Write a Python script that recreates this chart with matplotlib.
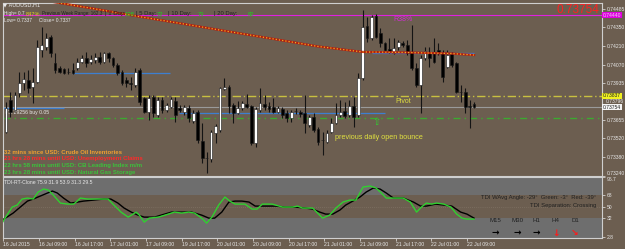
import numpy as np
import matplotlib.pyplot as plt

# ---- data ----
candle_open = [0.73569, 0.73807, 0.73733, 0.73859, 0.73934, 0.73956, 0.73904, 0.73941, 0.74180, 0.74202,
               0.74276, 0.74083, 0.74045, 0.74038, 0.74016, 0.74031, 0.74045, 0.74090, 0.74120, 0.74090,
               0.74105, 0.74127, 0.74090, 0.74157, 0.74120, 0.74068, 0.74016, 0.73956, 0.73934, 0.73919,
               0.74031, 0.73822, 0.73718, 0.73829, 0.73695, 0.73807, 0.73733, 0.73755, 0.73800, 0.73747,
               0.73718, 0.73747, 0.73651, 0.73718, 0.73502, 0.73375, 0.73367, 0.73561, 0.73584, 0.73889,
               0.73904, 0.73770, 0.73710, 0.73747, 0.73777, 0.73762, 0.73487, 0.73733, 0.73777, 0.73762,
               0.73755, 0.73718, 0.73740, 0.73710, 0.73673, 0.73725, 0.73718, 0.73710, 0.73621, 0.73680,
               0.73591, 0.73509, 0.73494, 0.73569, 0.73636, 0.73695, 0.73725, 0.73695, 0.73762, 0.73695,
               0.73971, 0.74358, 0.74269, 0.74433, 0.74306, 0.74232, 0.74187, 0.74157, 0.74202, 0.74232,
               0.74217, 0.74165, 0.74045, 0.73919, 0.74120, 0.74165, 0.74157, 0.74180, 0.74157, 0.74053,
               0.74150, 0.74083, 0.73867, 0.73867, 0.73762, 0.73777]
candle_high = [0.73792, 0.73867, 0.73867, 0.74016, 0.74016, 0.74031, 0.74045, 0.74254, 0.74351, 0.74306,
               0.74291, 0.74157, 0.74060, 0.74045, 0.74045, 0.74083, 0.74120, 0.74142, 0.74165, 0.74142,
               0.74157, 0.74165, 0.74165, 0.74165, 0.74127, 0.74083, 0.74031, 0.73978, 0.73978, 0.74045,
               0.74045, 0.73829, 0.73844, 0.73844, 0.73829, 0.73829, 0.73785, 0.73829, 0.73829, 0.73770,
               0.73770, 0.73770, 0.73733, 0.73733, 0.73636, 0.73420, 0.73584, 0.73628, 0.73904, 0.73971,
               0.73919, 0.73785, 0.73800, 0.73800, 0.73852, 0.73770, 0.73755, 0.73896, 0.73844, 0.73792,
               0.73822, 0.73762, 0.73755, 0.73733, 0.73733, 0.73747, 0.73733, 0.73844, 0.73695, 0.73710,
               0.73606, 0.73569, 0.73584, 0.73673, 0.73785, 0.73807, 0.73792, 0.73807, 0.73829, 0.74008,
               0.74478, 0.74425, 0.74440, 0.74448, 0.74343, 0.74239, 0.74269, 0.74269, 0.74254, 0.74247,
               0.74254, 0.74366, 0.74083, 0.74142, 0.74202, 0.74202, 0.74269, 0.74232, 0.74180, 0.74180,
               0.74165, 0.74090, 0.73919, 0.73896, 0.73807, 0.73792]
candle_low = [0.73561, 0.73680, 0.73718, 0.73829, 0.73882, 0.73859, 0.73785, 0.73934, 0.74127, 0.74180,
              0.74127, 0.74008, 0.74008, 0.74001, 0.74001, 0.74004, 0.74031, 0.74083, 0.74053, 0.74075,
              0.74083, 0.74075, 0.74083, 0.74090, 0.74053, 0.73993, 0.73919, 0.73904, 0.73882, 0.73904,
              0.73770, 0.73710, 0.73658, 0.73680, 0.73680, 0.73710, 0.73718, 0.73747, 0.73643, 0.73718,
              0.73695, 0.73643, 0.73636, 0.73487, 0.73338, 0.73263, 0.73345, 0.73487, 0.73569, 0.73882,
              0.73710, 0.73636, 0.73703, 0.73733, 0.73750, 0.73472, 0.73457, 0.73718, 0.73733, 0.73718,
              0.73710, 0.73710, 0.73673, 0.73643, 0.73643, 0.73703, 0.73680, 0.73561, 0.73606, 0.73569,
              0.73472, 0.73397, 0.73487, 0.73561, 0.73630, 0.73680, 0.73673, 0.73680, 0.73606, 0.73680,
              0.73956, 0.74239, 0.74254, 0.74269, 0.74202, 0.74165, 0.74157, 0.74150, 0.74180, 0.74202,
              0.74142, 0.74031, 0.73904, 0.73710, 0.74105, 0.74053, 0.74083, 0.74142, 0.73941, 0.74045,
              0.74053, 0.73859, 0.73792, 0.73710, 0.73598, 0.73747]
candle_close = [0.73747, 0.73718, 0.73844, 0.73934, 0.73963, 0.73896, 0.73941, 0.74202, 0.74217, 0.74269,
                0.74157, 0.74031, 0.74016, 0.74008, 0.74012, 0.74008, 0.74090, 0.74120, 0.74083, 0.74112,
                0.74127, 0.74090, 0.74157, 0.74120, 0.74068, 0.74008, 0.73934, 0.73934, 0.73926, 0.74016,
                0.73792, 0.73718, 0.73822, 0.73710, 0.73807, 0.73733, 0.73770, 0.73814, 0.73695, 0.73733,
                0.73755, 0.73673, 0.73710, 0.73509, 0.73375, 0.73371, 0.73569, 0.73613, 0.73896, 0.73904,
                0.73762, 0.73710, 0.73747, 0.73785, 0.73755, 0.73487, 0.73740, 0.73785, 0.73755, 0.73740,
                0.73718, 0.73747, 0.73695, 0.73673, 0.73718, 0.73722, 0.73703, 0.73636, 0.73680, 0.73584,
                0.73494, 0.73505, 0.73561, 0.73636, 0.73695, 0.73718, 0.73688, 0.73762, 0.73680, 0.73971,
                0.74351, 0.74269, 0.74425, 0.74276, 0.74232, 0.74180, 0.74165, 0.74194, 0.74239, 0.74217,
                0.74157, 0.74045, 0.73919, 0.74120, 0.74172, 0.74120, 0.74090, 0.74157, 0.73978, 0.74142,
                0.74068, 0.73867, 0.73863, 0.73755, 0.73758, 0.73754]

# moving average (red/yellow dotted)
ma_bar = [8, 20, 30, 40, 50, 60, 70, 80, 90, 100, 105]
ma_val = [0.74552, 0.74486, 0.74428, 0.74373, 0.74317, 0.74262, 0.74206, 0.74165, 0.74161, 0.74153, 0.74142]

# horizontal levels
level_r38 = 0.74440
level_pivot = 0.73837
level_ask = 0.73796
level_bid = 0.73754
level_prev_open = 0.73672
blue_segments = [(-1.4, 12.9, 0.73750), (14.9, 36.7, 0.74008), (38.9, 85.1, 0.73710), (82.0, 105.0, 0.74157)]

price_ticks = [0.74485, 0.74350, 0.74210, 0.74070, 0.73935, 0.73655, 0.73520, 0.73380, 0.73240]

# TDI indicator
green_bar = [-0.9, 0.2, 1.4, 2.5, 3.6, 4.8, 6.1, 7.2, 8.4, 9.5, 10.6, 12.2, 13.8, 15.2, 16.7, 18.3, 19.7,
             21.3, 22.9, 24.2, 25.8, 27.4, 28.5, 29.2, 29.9, 31.0, 32.1, 34.2, 36.4, 37.8, 39.4, 41.0,
             42.3, 43.9, 45.0, 46.2, 47.7, 49.1, 50.2, 51.4, 53.6, 55.2, 56.3, 57.5, 59.7, 62.0, 64.3,
             65.4, 66.5, 68.8, 69.9, 71.0, 72.6, 74.0, 75.6, 77.1, 78.5, 80.1, 81.7, 83.0, 84.2, 85.3,
             86.9, 89.1, 90.7, 92.1, 93.2, 94.3, 95.5, 96.6, 98.2, 99.8, 101.1, 102.3, 103.4, 105.0]
green_val = [24.7, 37.2, 49.8, 52.9, 62.3, 63.8, 62.3, 73.2, 77.9, 76.4, 68.5, 56.0, 54.4, 54.4, 63.8, 62.3, 62.3,
             62.3, 62.3, 52.9, 41.9, 34.1, 38.8, 41.9, 37.2, 26.3, 32.5, 34.1, 38.8, 41.9, 40.4, 41.9,
             40.4, 32.5, 24.7, 34.1, 52.9, 65.4, 59.1, 54.4, 54.4, 46.6, 46.6, 54.4, 54.4, 49.8, 49.8,
             51.3, 48.2, 48.2, 40.4, 32.5, 37.2, 48.2, 57.6, 60.7, 60.7, 81.1, 82.6, 79.5, 71.7, 63.8,
             63.8, 63.8, 57.6, 41.9, 49.8, 56.0, 54.4, 56.0, 54.4, 49.8, 38.8, 32.5, 31.0, 31.0]
signal_bar = [-0.9, 0.2, 1.6, 3.2, 4.8, 6.1, 7.7, 9.3, 10.4, 11.5, 12.9, 14.5, 16.1, 17.4, 19.7, 21.9, 23.5,
              25.1, 26.5, 28.1, 29.6, 31.0, 33.3, 34.8, 37.1, 39.4, 41.6, 43.9, 45.5, 46.8, 48.4, 50.0,
              51.4, 52.9, 54.5, 55.9, 58.1, 60.4, 62.7, 64.9, 67.2, 68.8, 70.4, 71.7, 73.3, 74.9, 76.2,
              77.8, 79.4, 80.8, 82.4, 83.9, 85.3, 86.9, 89.1, 91.4, 93.0, 94.3, 96.4, 98.2, 100.0, 102.0,
              103.4, 105.0]
signal_val = [29.4, 34.1, 40.4, 49.8, 59.1, 62.3, 67.0, 71.7, 74.8, 71.7, 63.8, 56.0, 57.6, 59.1, 60.7, 62.3, 62.3,
              56.0, 48.2, 41.9, 37.2, 34.1, 34.1, 37.2, 41.9, 41.9, 41.9, 37.2, 32.5, 32.5, 41.9, 57.6,
              59.1, 59.1, 57.6, 51.3, 51.3, 51.3, 49.8, 49.8, 48.2, 46.6, 41.9, 38.8, 38.8, 45.1, 52.9,
              59.1, 65.4, 73.2, 79.5, 77.9, 71.7, 63.8, 63.8, 57.6, 51.3, 51.3, 54.4, 52.9, 51.3, 41.9,
              38.8, 32.5]
tdi_ticks = [96.7, 68, 50, 32, 2.8]

time_labels = ["16 Jul 2015", "16 Jul 09:00", "16 Jul 17:00", "17 Jul 01:00", "17 Jul 09:00",
               "19 Jul 17:00", "20 Jul 01:00", "20 Jul 09:00", "20 Jul 17:00", "21 Jul 01:00",
               "21 Jul 09:00", "21 Jul 17:00", "22 Jul 01:00", "22 Jul 09:00"]

news_lines = ["32 mins since USD: Crude Oil Inventories",
              "21 hrs 28 mins until USD: Unemployment Claims",
              "22 hrs 58 mins until USD: CB Leading Index m/m",
              "23 hrs 28 mins until USD: Natural Gas Storage"]
news_colors = ["#f0a030", "#ff2a2a", "#3cc03c", "#3cc03c"]

tf_names = ["M15", "M30", "H1", "H4", "D1"]
tf_arrows = ["\u2192", "\u2192", "\u2192", "\u2193", "\u2198"]
tf_colors = ["#000000", "#000000", "#000000", "#ff1a1a", "#ff1a1a"]

# ---- styling ----
BG = "#6c5e50"
GRAY = "#6e6e6e"
FG = "#e8e8e8"
DARK = "#202020"
W, H = 625, 249
plt.rcParams["font.family"] = ["Liberation Sans", "DejaVu Sans"]


def fx(x):
    return x / W


def fy(y):
    return 1 - y / H


fig = plt.figure(figsize=(W / 100, H / 100), dpi=100, facecolor=BG)
ax = fig.add_axes([fx(3), fy(176), fx(599), 173 / H], facecolor=BG)
ax2 = fig.add_axes([fx(3), fy(238), fx(599), 61 / H], facecolor=BG)

xlim = (-0.68, 133.7)

# ---- main price panel ----
bars = np.arange(len(candle_open))
o = np.array(candle_open)
c = np.array(candle_close)
bull = c >= o
ax.vlines(bars, candle_low, candle_high, color="#141414", lw=0.8, zorder=3)
body = np.maximum(np.abs(c - o), 0.00003)
ax.bar(bars, body, bottom=np.minimum(o, c), width=0.62,
       color=np.where(bull, "#ffffff", "#000000"), edgecolor="#1a1a1a", linewidth=0.4, zorder=4)

ax.axhline(level_r38, color="#e020e0", lw=0.8, zorder=2)
ax.axhline(level_pivot, color="#c8c040", lw=1.0, ls=(0, (6, 2, 1, 2)), zorder=2)
ax.axhline(level_bid, color="#9a9a9a", lw=0.8, zorder=2)
ax.axhline(level_prev_open, color="#3caa30", lw=1.0, ls=(0, (5, 3, 1, 3)), zorder=2)
for x0, x1, lv in blue_segments:
    ax.hlines(lv, x0, x1, color="#3d7fd0", lw=0.9, zorder=2)

ax.plot(ma_bar, ma_val, color="#b01e10", lw=1.6, zorder=5)
ax.plot(ma_bar, ma_val, color="#f0b020", lw=0.9, dashes=(1, 1.6), zorder=6)

ax.text(86.9, 0.74410, "R38%", color="#d030d0", fontsize=5, ha="left", va="center")
ax.text(87.3, 0.73798, "Pivot", color="#e0e040", fontsize=5, ha="left", va="center")
ax.text(83.0, 0.73643, "\u21e7", color="#30d030", fontsize=7, ha="center", va="center",
        family="DejaVu Sans")
ax.text(73.8, 0.73524, "previous daily open bounce", color="#e0e040", fontsize=5.2,
        ha="left", va="center")
ax.text(-0.3, 0.73710, "#7729256 buy 0.05", color=FG, fontsize=3.7, ha="left", va="center")

ax.set_xlim(xlim)
ax.set_ylim(0.73241, 0.74530)
ax.yaxis.tick_right()
ax.set_yticks(price_ticks, [f"{v:.5f}" for v in price_ticks])
ax.tick_params(axis="y", colors=FG, labelsize=3.6, length=2, width=0.5, pad=1.5)
ax.get_yticklabels()[-1].set_verticalalignment("bottom")
ax.set_xticks([])
for s in ax.spines.values():
    s.set_color("#cfcfcf")
    s.set_linewidth(0.8)

# price boxes on the right scale
tr = ax.get_yaxis_transform()
ax.text(1.002, level_r38, "0.74440", transform=tr, fontsize=3.6, color="#f0d0f0", va="center",
        ha="left", bbox=dict(boxstyle="square,pad=0.15", fc="#e000e0", ec="none"), clip_on=False)
ax.text(1.002, level_pivot, "0.73837", transform=tr, fontsize=3.6, color="#202020", va="center",
        ha="left", bbox=dict(boxstyle="square,pad=0.15", fc="#f0f020", ec="none"), clip_on=False)
ax.text(1.006, level_ask, "0.73796", transform=tr, fontsize=3.6, color=FG, va="center",
        ha="left", clip_on=False)
ax.text(1.002, level_bid, "0.73754", transform=tr, fontsize=3.6, color="#202020", va="center",
        ha="left", bbox=dict(boxstyle="square,pad=0.15", fc="#f4f4f4", ec="none"), clip_on=False)

# ---- TDI panel ----
ax2.axhspan(68, 120, color=GRAY, lw=0, zorder=0)
ax2.axhspan(-20, 32, color=GRAY, lw=0, zorder=0)
ax2.axhline(50, color="#877a6c", lw=0.5, ls=(0, (1, 2)), zorder=1)
ax2.plot(signal_bar, signal_val, color="#000000", lw=1.0, zorder=3)
ax2.plot(green_bar, green_val, color="#30d030", lw=1.0, zorder=4)
ax2.set_xlim(xlim)
ax2.set_ylim(1.5, 96.7)
ax2.yaxis.tick_right()
ax2.set_yticks(tdi_ticks, ["96.7", "68", "50", "32", "2.8"])
ax2.tick_params(axis="y", colors=FG, labelsize=3.6, length=2, width=0.5, pad=1.5)
ax2.get_yticklabels()[0].set_verticalalignment("top")
tick_pos = np.arange(len(time_labels)) * 8 - 0.6
ax2.set_xticks(tick_pos, time_labels, ha="left")
ax2.tick_params(axis="x", colors=FG, labelsize=3.7, length=2, width=0.5, pad=1)
for s in ax2.spines.values():
    s.set_color("#cfcfcf")
    s.set_linewidth(0.8)

# ---- overlay texts ----
fig.text(fx(3), fy(5), "\u25bc AUDUSD,H1", color=FG, fontsize=3.8, va="center", family="DejaVu Sans")
fig.text(fx(4), fy(14), "High= 0.7", color=FG, fontsize=3.4, va="center")
fig.text(fx(26), fy(14), "847%", color="#e0d020", fontsize=4.0, va="center")
fig.text(fx(42), fy(14), "Previous Week Range: 162.3", color=DARK, fontsize=3.3, va="center")
header = [(105, "| 1 Day:", DARK), (125, "108", "#20d020"), (136, "| 5 Day:", DARK), (157, "72", "#20d020"),
          (168, "| 10 Day:", DARK), (198, "79", "#20d020"), (214, "| 20 Day:", DARK), (248, "82", "#20d020")]
for x, t, col in header:
    fig.text(fx(x), fy(14), t, color=col, fontsize=4.2, va="center")
fig.text(fx(4), fy(20), "Low= 0.7337     Close= 0.7337", color=FG, fontsize=3.5, va="center")
fig.text(fx(599), fy(10), "0.73754", color="#ff2020", fontsize=8.5, ha="right", va="center")

for k, (t, col) in enumerate(zip(news_lines, news_colors)):
    fig.text(fx(4), fy(152 + 6.7 * k), t, color=col, fontsize=4.3, fontweight="bold", va="center")

fig.text(fx(4), fy(182), "TDI-RT-Clone 75.9 31.9 53.9 31.3 29.5", color=FG, fontsize=3.7, va="center")
fig.text(fx(596), fy(197), "TDI WAvg Angle: -29\u00b0  Green: -3\u00b0  Red: -39\u00b0", color=DARK,
         fontsize=4.2, ha="right", va="center")
fig.text(fx(596), fy(206), "TDI Separation: Crossing", color=DARK, fontsize=4.2, ha="right", va="center")
for x, name, arr, col in zip([495, 517, 536, 556, 575], tf_names, tf_arrows, tf_colors):
    fig.text(fx(x), fy(220), name, color=DARK, fontsize=4.4, ha="center", va="center")
    fig.text(fx(x), fy(233), arr, color=col, fontsize=6.5, fontweight="bold", ha="center",
             va="center", family="DejaVu Sans")

fig.savefig("out.png", dpi=100, facecolor=BG)
